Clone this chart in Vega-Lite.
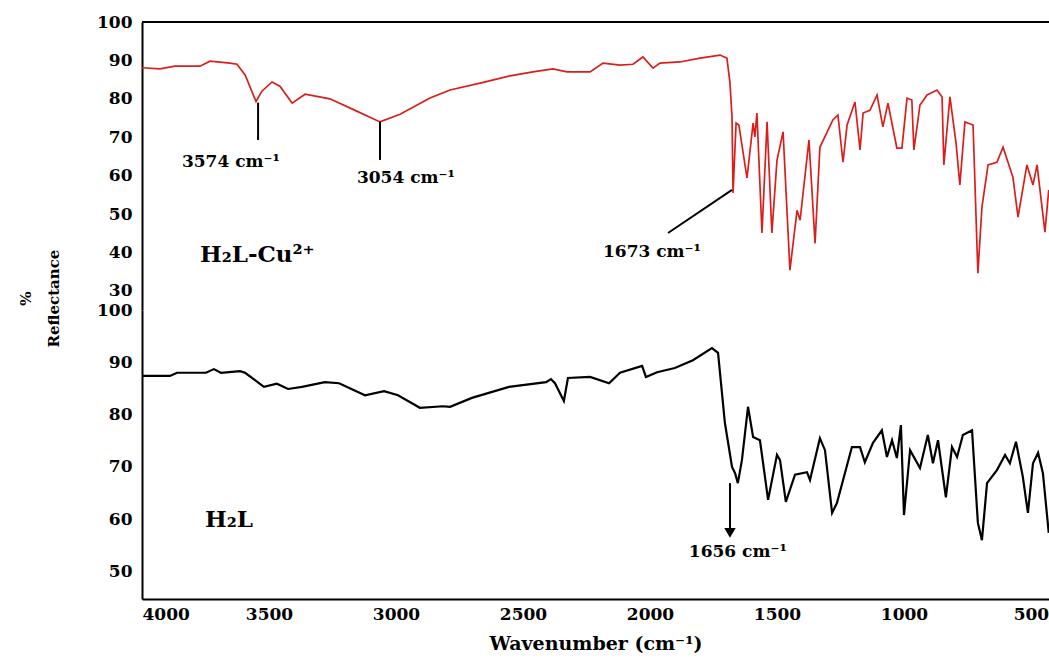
{
  "$schema": "https://vega.github.io/schema/vega-lite/v6.json",
  "autosize": {"type": "none"},
  "padding": {"left": 142, "top": 22, "right": 0, "bottom": 62},
  "width": 907,
  "height": 577,
  "background": "white",
  "config": {
    "view": {"stroke": null},
    "font": "DejaVu Serif",
    "axis": {
      "grid": false,
      "domainWidth": 2,
      "domainColor": "black",
      "ticks": false,
      "labelFont": "DejaVu Serif",
      "labelFontWeight": "bold",
      "labelFontSize": 17,
      "labelColor": "black",
      "titleFont": "DejaVu Serif",
      "titleFontWeight": "bold",
      "titleColor": "black",
      "zindex": 1
    },
    "axisX": {"labelPadding": 7},
    "axisY": {"labelPadding": 10}
  },
  "datasets": {
    "cu": [
      {"wn": 4000, "r": 88.1}, {"wn": 3929, "r": 87.8}, {"wn": 3870, "r": 88.5}, {"wn": 3772, "r": 88.5},
      {"wn": 3732, "r": 89.8}, {"wn": 3654, "r": 89.3}, {"wn": 3626, "r": 89.0}, {"wn": 3594, "r": 86.2},
      {"wn": 3551, "r": 79.3}, {"wn": 3528, "r": 82.0}, {"wn": 3488, "r": 84.4}, {"wn": 3457, "r": 83.3},
      {"wn": 3409, "r": 78.9}, {"wn": 3358, "r": 81.2}, {"wn": 3260, "r": 80.0}, {"wn": 3161, "r": 77.0},
      {"wn": 3063, "r": 74.0}, {"wn": 2984, "r": 76.0}, {"wn": 2866, "r": 80.2}, {"wn": 2787, "r": 82.3},
      {"wn": 2669, "r": 84.1}, {"wn": 2551, "r": 86.0}, {"wn": 2461, "r": 87.0}, {"wn": 2382, "r": 87.8},
      {"wn": 2327, "r": 87.0}, {"wn": 2236, "r": 87.0}, {"wn": 2185, "r": 89.3}, {"wn": 2118, "r": 88.8},
      {"wn": 2067, "r": 89.0}, {"wn": 2028, "r": 90.9}, {"wn": 1988, "r": 88.0}, {"wn": 1961, "r": 89.3},
      {"wn": 1882, "r": 89.6}, {"wn": 1803, "r": 90.6}, {"wn": 1724, "r": 91.4}, {"wn": 1697, "r": 90.6},
      {"wn": 1685, "r": 84.1}, {"wn": 1677, "r": 75.3}, {"wn": 1673, "r": 55.5}, {"wn": 1661, "r": 73.7},
      {"wn": 1650, "r": 73.2}, {"wn": 1618, "r": 59.4}, {"wn": 1594, "r": 73.7}, {"wn": 1587, "r": 70.1},
      {"wn": 1579, "r": 76.3}, {"wn": 1559, "r": 45.1}, {"wn": 1539, "r": 74.0}, {"wn": 1520, "r": 45.1},
      {"wn": 1500, "r": 64.0}, {"wn": 1476, "r": 71.4}, {"wn": 1449, "r": 35.4}, {"wn": 1421, "r": 51.0},
      {"wn": 1409, "r": 48.4}, {"wn": 1374, "r": 69.3}, {"wn": 1350, "r": 42.4}, {"wn": 1331, "r": 67.4},
      {"wn": 1280, "r": 74.5}, {"wn": 1260, "r": 75.8}, {"wn": 1240, "r": 63.5}, {"wn": 1224, "r": 73.2},
      {"wn": 1193, "r": 79.2}, {"wn": 1173, "r": 66.7}, {"wn": 1161, "r": 76.3}, {"wn": 1134, "r": 77.0},
      {"wn": 1106, "r": 81.0}, {"wn": 1083, "r": 72.7}, {"wn": 1063, "r": 78.9}, {"wn": 1028, "r": 67.2},
      {"wn": 1008, "r": 67.2}, {"wn": 988, "r": 80.2}, {"wn": 969, "r": 79.7}, {"wn": 961, "r": 66.7},
      {"wn": 937, "r": 78.4}, {"wn": 909, "r": 81.0}, {"wn": 870, "r": 82.3}, {"wn": 850, "r": 80.5},
      {"wn": 843, "r": 62.8}, {"wn": 819, "r": 80.5}, {"wn": 795, "r": 68.5}, {"wn": 780, "r": 57.6},
      {"wn": 760, "r": 74.0}, {"wn": 728, "r": 73.2}, {"wn": 709, "r": 34.6}, {"wn": 693, "r": 51.8},
      {"wn": 669, "r": 62.8}, {"wn": 634, "r": 63.5}, {"wn": 610, "r": 67.4}, {"wn": 571, "r": 59.6},
      {"wn": 551, "r": 49.2}, {"wn": 516, "r": 62.8}, {"wn": 492, "r": 57.6}, {"wn": 476, "r": 62.8},
      {"wn": 445, "r": 45.3}, {"wn": 430, "r": 56.3}
    ],
    "h2l": [
      {"wn": 4000, "r": 87.4}, {"wn": 3890, "r": 87.4}, {"wn": 3862, "r": 88.0}, {"wn": 3748, "r": 88.0},
      {"wn": 3717, "r": 88.7}, {"wn": 3689, "r": 88.0}, {"wn": 3614, "r": 88.3}, {"wn": 3594, "r": 88.0},
      {"wn": 3520, "r": 85.3}, {"wn": 3469, "r": 85.9}, {"wn": 3425, "r": 84.9}, {"wn": 3370, "r": 85.3},
      {"wn": 3280, "r": 86.2}, {"wn": 3224, "r": 86.0}, {"wn": 3122, "r": 83.7}, {"wn": 3047, "r": 84.5},
      {"wn": 2992, "r": 83.7}, {"wn": 2906, "r": 81.3}, {"wn": 2815, "r": 81.6}, {"wn": 2787, "r": 81.5},
      {"wn": 2701, "r": 83.2}, {"wn": 2555, "r": 85.3}, {"wn": 2409, "r": 86.2}, {"wn": 2390, "r": 86.8},
      {"wn": 2374, "r": 86.0}, {"wn": 2339, "r": 82.6}, {"wn": 2323, "r": 87.0}, {"wn": 2236, "r": 87.2},
      {"wn": 2161, "r": 86.0}, {"wn": 2118, "r": 88.0}, {"wn": 2031, "r": 89.3}, {"wn": 2016, "r": 87.2},
      {"wn": 1972, "r": 88.1}, {"wn": 1902, "r": 88.9}, {"wn": 1831, "r": 90.4}, {"wn": 1756, "r": 92.7},
      {"wn": 1732, "r": 91.8}, {"wn": 1705, "r": 78.4}, {"wn": 1677, "r": 70.0}, {"wn": 1665, "r": 68.8},
      {"wn": 1654, "r": 66.9}, {"wn": 1638, "r": 71.3}, {"wn": 1614, "r": 81.5}, {"wn": 1594, "r": 75.7},
      {"wn": 1567, "r": 75.1}, {"wn": 1535, "r": 63.7}, {"wn": 1500, "r": 72.3}, {"wn": 1488, "r": 71.3},
      {"wn": 1465, "r": 63.3}, {"wn": 1429, "r": 68.5}, {"wn": 1382, "r": 69.0}, {"wn": 1370, "r": 67.5},
      {"wn": 1331, "r": 75.5}, {"wn": 1311, "r": 73.2}, {"wn": 1283, "r": 61.2}, {"wn": 1264, "r": 63.1},
      {"wn": 1205, "r": 73.8}, {"wn": 1173, "r": 73.8}, {"wn": 1154, "r": 70.9}, {"wn": 1122, "r": 74.6},
      {"wn": 1087, "r": 77.0}, {"wn": 1067, "r": 71.9}, {"wn": 1047, "r": 75.1}, {"wn": 1028, "r": 71.7},
      {"wn": 1012, "r": 78.0}, {"wn": 1000, "r": 60.8}, {"wn": 976, "r": 73.2}, {"wn": 937, "r": 69.8},
      {"wn": 906, "r": 76.1}, {"wn": 886, "r": 70.7}, {"wn": 866, "r": 75.1}, {"wn": 835, "r": 64.2},
      {"wn": 811, "r": 73.8}, {"wn": 791, "r": 71.9}, {"wn": 768, "r": 76.1}, {"wn": 732, "r": 77.0},
      {"wn": 709, "r": 59.3}, {"wn": 693, "r": 56.0}, {"wn": 673, "r": 66.9}, {"wn": 634, "r": 69.4},
      {"wn": 602, "r": 72.3}, {"wn": 583, "r": 70.7}, {"wn": 559, "r": 74.8}, {"wn": 532, "r": 68.1},
      {"wn": 512, "r": 61.2}, {"wn": 492, "r": 70.7}, {"wn": 472, "r": 72.7}, {"wn": 453, "r": 68.8},
      {"wn": 430, "r": 57.4}
    ],
    "frame": [{"r": 100}],
    "topTicks": [{"r": 30}, {"r": 40}, {"r": 50}, {"r": 60}, {"r": 70}, {"r": 80}, {"r": 90}],
    "botTicks": [{"r": 50}, {"r": 60}, {"r": 70}, {"r": 80}, {"r": 90}, {"r": 100}],
    "xTicks": [{"wn": 3500}, {"wn": 3000}, {"wn": 2500}, {"wn": 2000}, {"wn": 1500}, {"wn": 1000}, {"wn": 500}],
    "topLines": [
      {"wn": 3543, "wn2": 3543, "r": 79.0, "r2": 69.3},
      {"wn": 3063, "wn2": 3063, "r": 74.0, "r2": 64.1},
      {"wn": 1677, "wn2": 1929, "r": 56.3, "r2": 45.1}
    ],
    "topLabels": [
      {"wn": 3650, "r": 63.6, "label": "3574 cm⁻¹"},
      {"wn": 2961, "r": 59.4, "label": "3054 cm⁻¹"},
      {"wn": 1992, "r": 40.1, "label": "1673 cm⁻¹"}
    ],
    "topName": [{"wn": 3772, "r": 39.3, "label": "H₂L-Cu²⁺"}],
    "botName": [{"wn": 3752, "r": 59.8, "label": "H₂L"}],
    "botArrow": [{"wn": 1685, "r": 66.9, "r2": 58.0}],
    "botHead": [{"wn": 1685, "r": 57.4}],
    "botLabels": [{"wn": 1654, "r": 53.7, "label": "1656 cm⁻¹"}]
  },
  "encoding": {
    "x": {"field": "wn", "type": "quantitative", "title": "Wavenumber (cm⁻¹)",
      "scale": {"domain": [4000, 429], "nice": false, "zero": false},
      "axis": {"values": [4000, 3500, 3000, 2500, 2000, 1500, 1000, 500], "format": "d",
        "titleFontSize": 19, "titlePadding": 12}}
  },
  "resolve": {"scale": {"y": "independent"}},
  "layer": [
    {
      "encoding": {
        "y": {"field": "r", "type": "quantitative", "title": ["%", "Reflectance"],
          "scale": {"domain": [25.05, 100], "range": [288, 0], "nice": false, "zero": false},
          "axis": {"orient": "left", "values": [30, 40, 50, 60, 70, 80, 90, 100],
            "titleFontSize": 15, "titleAngle": -90, "titleX": -109, "titleY": 276,
            "titleAlign": "center", "titleBaseline": "bottom", "titleLineHeight": 28}}
      },
      "layer": [
        {
          "data": {"name": "frame"},
          "mark": {"type": "rule", "color": "black", "strokeWidth": 2},
          "encoding": {"x": null}
        },
        {
          "data": {"name": "topTicks"},
          "mark": {"type": "rule", "color": "black", "strokeWidth": 2.5},
          "encoding": {"x": {"datum": 4000}, "x2": {"datum": 3960.6}}
        },
        {
          "data": {"name": "cu"},
          "mark": {"type": "line", "color": "#d81f1c", "strokeWidth": 1.7}
        },
        {
          "data": {"name": "topLines"},
          "mark": {"type": "rule", "color": "black", "strokeWidth": 2},
          "encoding": {
            "x2": {"field": "wn2"},
            "y2": {"field": "r2"}
          }
        },
        {
          "data": {"name": "topLabels"},
          "mark": {"type": "text", "font": "DejaVu Serif", "fontWeight": "bold", "fontSize": 17, "color": "black", "align": "center", "baseline": "middle"},
          "encoding": {"text": {"field": "label"}}
        },
        {
          "data": {"name": "topName"},
          "mark": {"type": "text", "font": "DejaVu Serif", "fontWeight": "bold", "fontSize": 23, "color": "black", "align": "left", "baseline": "middle"},
          "encoding": {"text": {"field": "label"}}
        }
      ]
    },
    {
      "encoding": {
        "y": {"field": "r", "type": "quantitative", "title": null,
          "scale": {"domain": [44.75, 100], "range": [577, 288], "nice": false, "zero": false},
          "axis": {"orient": "left", "values": [50, 60, 70, 80, 90, 100]}}
      },
      "layer": [
        {
          "data": {"name": "botTicks"},
          "mark": {"type": "rule", "color": "black", "strokeWidth": 2.5},
          "encoding": {"x": {"datum": 4000}, "x2": {"datum": 3960.6}}
        },
        {
          "data": {"name": "xTicks"},
          "mark": {"type": "rule", "color": "black", "strokeWidth": 2.5},
          "encoding": {"y": {"datum": 44.75}, "y2": {"datum": 46.66}}
        },
        {
          "data": {"name": "h2l"},
          "mark": {"type": "line", "color": "black", "strokeWidth": 2.2}
        },
        {
          "data": {"name": "botArrow"},
          "mark": {"type": "rule", "color": "black", "strokeWidth": 2},
          "encoding": {"y2": {"field": "r2"}}
        },
        {
          "data": {"name": "botHead"},
          "mark": {"type": "point", "shape": "triangle-down", "filled": true, "color": "black", "size": 130, "opacity": 1}
        },
        {
          "data": {"name": "botLabels"},
          "mark": {"type": "text", "font": "DejaVu Serif", "fontWeight": "bold", "fontSize": 17, "color": "black", "align": "center", "baseline": "middle"},
          "encoding": {"text": {"field": "label"}}
        },
        {
          "data": {"name": "botName"},
          "mark": {"type": "text", "font": "DejaVu Serif", "fontWeight": "bold", "fontSize": 23, "color": "black", "align": "left", "baseline": "middle"},
          "encoding": {"text": {"field": "label"}}
        }
      ]
    }
  ]
}
